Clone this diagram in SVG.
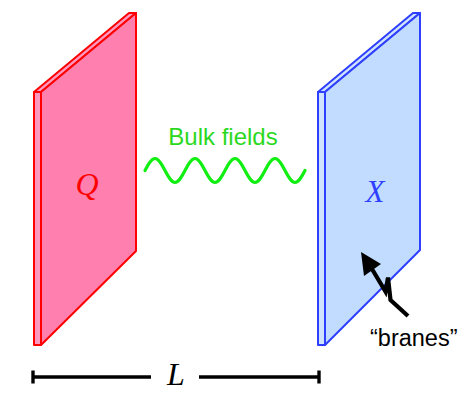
<svg xmlns="http://www.w3.org/2000/svg" width="469" height="400" viewBox="0 0 469 400">
<style>
.red{fill:#FF80AF;stroke:#FF0000;stroke-width:2;stroke-linejoin:round}
.redside{fill:#FF98BF;stroke:#FF0000;stroke-width:2;stroke-linejoin:round}
.blue{fill:#C2DCFF;stroke:#2E3FFF;stroke-width:2;stroke-linejoin:round}
.blueside{fill:#CFE3FF;stroke:#2E3FFF;stroke-width:2;stroke-linejoin:round}
.math{font-family:"Liberation Serif","Times New Roman",serif;font-style:italic}
.sans{font-family:"Liberation Sans",Arial,sans-serif}
.blk{stroke:#000;stroke-width:3.4;fill:none}
</style>
<rect width="469" height="400" fill="#fff"/>
<g id="brane-Q">
<polygon class="redside" points="34,92 41,92 41,345 34,345"/>
<polygon class="redside" points="34,92 129,13 136,13 41,92"/>
<polygon class="red" points="41,92 136,13 136,251 41,345"/>
<text class="math" x="87" y="195" font-size="32" fill="#FF0000" text-anchor="middle">Q</text>
</g>
<g id="brane-X">
<polygon class="blueside" points="318,92 325,92 325,345 318,345"/>
<polygon class="blueside" points="318,92 413,13 420,13 325,92"/>
<polygon class="blue" points="325,92 420,13 420,250 325,345"/>
<text class="math" x="375" y="202" font-size="31" fill="#2E3FFF" text-anchor="middle">X</text>
</g>
<g id="bulk-fields">
<text class="sans" x="223" y="145" font-size="24" fill="#2BD81E" text-anchor="middle">Bulk fields</text>
<path fill="none" stroke="#11EE11" stroke-width="3.2" stroke-linecap="round" d="M145,170.5 c3.26,-6.150 6.48,-12 10,-12 c3.52,0 6.74,5.85 10,12 c3.26,6.15 6.48,12 10,12 c3.52,0 6.74,-5.85 10,-12 c3.26,-6.15 6.48,-12 10,-12 c3.52,0 6.74,5.85 10,12 c3.26,6.15 6.48,12 10,12 c3.52,0 6.74,-5.85 10,-12 c3.26,-6.15 6.48,-12 10,-12 c3.52,0 6.74,5.85 10,12 c3.26,6.15 6.48,12 10,12 c3.52,0 6.74,-5.85 10,-12 c3.26,-6.15 6.48,-12 10,-12 c3.52,0 6.74,5.85 10,12 c3.26,6.15 6.48,12 10,12 c3.52,0 6.74,-5.85 10,-12"/>
</g>
<g id="connectors">
<polyline stroke="#000" stroke-width="4.2" fill="none" stroke-linejoin="miter" stroke-miterlimit="6" points="369,264 385.5,291.5 388,277.5 390.5,300 408,316"/>
<polygon points="361,252 364,276 381,264" fill="#000"/>
<line class="blk" x1="33" y1="377" x2="151" y2="377"/>
<line class="blk" x1="199" y1="377" x2="319" y2="377"/>
<line class="blk" x1="33" y1="370.5" x2="33" y2="383.5"/>
<line class="blk" x1="319" y1="370.5" x2="319" y2="383.5"/>
</g>
<g id="labels">
<text class="sans" x="370" y="346" font-size="23.5" fill="#000">“branes”</text>
<text class="math" x="176" y="385" font-size="32" fill="#000" text-anchor="middle">L</text>
</g>
</svg>
